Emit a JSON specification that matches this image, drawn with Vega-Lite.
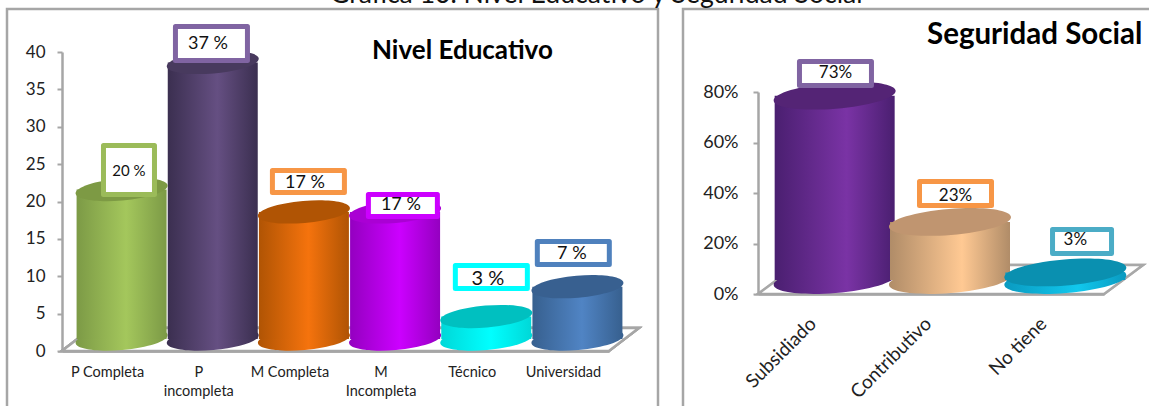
{
"$schema":"https://vega.github.io/schema/vega-lite/v6.json",
"autosize":"none",
"padding":{"left":7,"top":9,"right":1142,"bottom":397},
"background":"white",
"config":{"font":"Lato","view":{"stroke":"#a6a6a6","strokeWidth":2.5},"axis":{"grid":false,"labelColor":"#222222","domainColor":"#a6a6a6","domainWidth":2.5,"tickColor":"#a6a6a6","tickWidth":2,"tickSize":5,"title":null,"labelFont":"Lato"}},
"title":{"text":"Gráfica 10. Nivel Educativo y Seguridad Social","anchor":"start","frame":"group","dx":323,"offset":-1,"fontSize":26.6,"fontWeight":"normal","font":"Lato","color":"#111111"},
"datasets":{
"nivel":[{"nivel":"P Completa","pct":20,"txt":"20 %"},{"nivel":"P incompleta","pct":37,"txt":"37 %"},{"nivel":"M Completa","pct":17,"txt":"17 %"},{"nivel":"M Incompleta","pct":17,"txt":"17 %"},{"nivel":"Técnico","pct":3,"txt":"3 %"},{"nivel":"Universidad","pct":7,"txt":"7 %"}],
"seguridad":[{"tipo":"Subsidiado","pct":0.73,"txt":"73%"},{"tipo":"Contributivo","pct":0.23,"txt":"23%"},{"tipo":"No tiene","pct":0.03,"txt":"3%"}]
},
"spacing":25,
"bounds":"flush",
"resolve":{"scale":{"fill":"independent","stroke":"independent","shape":"independent","color":"independent","x":"independent","y":"independent"}},
"hconcat":[
{"width":651,"height":400,
 "title":{"text":"Nivel Educativo","anchor":"start","frame":"group","dx":365,"offset":-55,"fontSize":26,"fontWeight":"bold","color":"#000000"},
 "data":{"name":"nivel"},
 "encoding":{
  "x":{"field":"nivel","type":"nominal","sort":null,"scale":{"domain":["P Completa","P incompleta","M Completa","M Incompleta","Técnico","Universidad"],"range":[55,602],"paddingInner":0,"paddingOuter":0},"axis":{"offset":-58,"ticks":false,"labelAngle":0,"labelFontSize":14.5,"labelPadding":21,"labelLineHeight":19,"labelBaseline":"middle","labelLimit":120,"labelExpr":"datum.label=='P incompleta'?['P','incompleta']:datum.label=='M Incompleta'?['M','Incompleta']:datum.label"}},
  "y":{"field":"pct","type":"quantitative","scale":{"domain":[0,40],"range":[342,43],"nice":false,"zero":true},"axis":{"offset":-55,"values":[0,5,10,15,20,25,30,35,40],"labelFontSize":17,"labelPadding":12}}
 },
 "layer":[
  {"mark":{"type":"point","filled":false,"fill":"white","stroke":"#a6a6a6","strokeWidth":2.5,"size":40000,"shape":"M-5.016,0L0.454,0L0.754,-0.23L-4.716,-0.23Z"},"encoding":{"x":{"datum":"Universidad"},"y":{"datum":0}}},
  {"mark":{"type":"point","filled":true,"opacity":1,"size":40000,"xOffset":14,"yOffset":-12,"shape":"M-0.46,0.04A0.4617,0.11,-5,1,1,0.46,-0.04A0.4617,0.11,-5,1,1,-0.46,0.04Z",
    "fill":{"expr":"{gradient:'linear',x1:0,x2:1,y1:0,y2:0,stops:[{offset:0,color:{'P Completa':'#7c9a46','P incompleta':'#3b2f50','M Completa':'#b05404','M Incompleta':'#9400c0','Técnico':'#00d8d8','Universidad':'#37608f'}[datum.nivel]},{offset:0.55,color:{'P Completa':'#a4c75c','P incompleta':'#654f82','M Completa':'#f5730d','M Incompleta':'#cc00ff','Técnico':'#00ffff','Universidad':'#5084c4'}[datum.nivel]},{offset:1,color:{'P Completa':'#7c9a46','P incompleta':'#3b2f50','M Completa':'#b05404','M Incompleta':'#9400c0','Técnico':'#00d8d8','Universidad':'#37608f'}[datum.nivel]}]}"}},
   "encoding":{"y":{"datum":0}}},
  {"mark":{"type":"bar","width":90,"xOffset":14,"yOffset":-12,
    "fill":{"expr":"{gradient:'linear',x1:0,x2:1,y1:0,y2:0,stops:[{offset:0,color:{'P Completa':'#7c9a46','P incompleta':'#3b2f50','M Completa':'#b05404','M Incompleta':'#9400c0','Técnico':'#00d8d8','Universidad':'#37608f'}[datum.nivel]},{offset:0.55,color:{'P Completa':'#a4c75c','P incompleta':'#654f82','M Completa':'#f5730d','M Incompleta':'#cc00ff','Técnico':'#00ffff','Universidad':'#5084c4'}[datum.nivel]},{offset:1,color:{'P Completa':'#7c9a46','P incompleta':'#3b2f50','M Completa':'#b05404','M Incompleta':'#9400c0','Técnico':'#00d8d8','Universidad':'#37608f'}[datum.nivel]}]}"}}},
  {"mark":{"type":"point","filled":true,"opacity":1,"size":40000,"xOffset":14,"yOffset":-12,"shape":"M-0.46,0.04A0.4617,0.11,-5,1,1,0.46,-0.04A0.4617,0.11,-5,1,1,-0.46,0.04Z"},
   "encoding":{"color":{"field":"nivel","type":"nominal","sort":null,"legend":null,"scale":{"range":["#7d9a44","#483a5e","#b05404","#aa00d4","#00c0c0","#386090"]}}}},
  {"mark":{"type":"point","filled":true,"opacity":1,"fill":"white","strokeWidth":5,"size":40000,"strokeJoin":"round",
    "xOffset":{"expr":"{'P Completa':21.4,'P incompleta':12.7,'M Completa':18.5,'M Incompleta':21.8,'Técnico':19.1,'Universidad':9.9}[datum.nivel]"},
    "yOffset":{"expr":"{'P Completa':-31.5,'P incompleta':-30.9,'M Completa':-42.4,'M Incompleta':-18.4,'Técnico':-51.6,'Universidad':-45.7}[datum.nivel]"}},
   "encoding":{
    "stroke":{"field":"nivel","type":"nominal","sort":null,"legend":null,"scale":{"range":["#9bbb59","#8064a2","#f79646","#cc00ff","#00ffff","#4f81bd"]}},
    "shape":{"field":"nivel","type":"nominal","sort":null,"legend":null,"scale":{"range":["M-0.255,-0.245H0.255V0.245H-0.255Z","M-0.36,-0.17H0.36V0.17H-0.36Z","M-0.36,-0.11H0.36V0.11H-0.36Z","M-0.345,-0.11H0.345V0.11H-0.345Z","M-0.36,-0.115H0.36V0.115H-0.36Z","M-0.36,-0.115H0.36V0.115H-0.36Z"]}}}},
  {"mark":{"type":"text","color":"#111111","align":"center","baseline":"middle",
    "fontSize":{"expr":"datum.nivel=='P Completa'?15:datum.nivel=='Técnico'?20:18"},
    "xOffset":{"expr":"{'P Completa':21.4,'P incompleta':9.2,'M Completa':15,'M Incompleta':19.8,'Técnico':15.6,'Universidad':8.4}[datum.nivel]"},
    "yOffset":{"expr":"{'P Completa':-30.5,'P incompleta':-30.4,'M Completa':-40.9,'M Incompleta':-18.9,'Técnico':-49.6,'Universidad':-44.7}[datum.nivel]"}},
   "encoding":{"text":{"field":"txt"}}}
 ]},
{"width":480,"height":410,
 "title":{"text":"Seguridad Social","anchor":"start","frame":"group","dx":244,"offset":-41,"fontSize":29.5,"fontWeight":"bold","color":"#000000"},
 "data":{"name":"seguridad"},
 "encoding":{
  "x":{"field":"tipo","type":"nominal","sort":null,"scale":{"domain":["Subsidiado","Contributivo","No tiene"],"range":[75,421],"paddingInner":0,"paddingOuter":0},"axis":{"offset":-125,"ticks":false,"labelAngle":-45,"labelFontSize":19,"labelPadding":20,"labelOffset":-9,"labelLimit":200}},
  "y":{"field":"pct","type":"quantitative","scale":{"domain":[0,0.8],"range":[285,83],"nice":false},"axis":{"offset":-75,"values":[0,0.2,0.4,0.6,0.8],"format":".0%","labelFontSize":18,"labelPadding":15}}
 },
 "layer":[
  {"mark":{"type":"point","filled":false,"fill":"white","stroke":"#a6a6a6","strokeWidth":2.5,"size":40000,"shape":"M-2.883,0L0.577,0L0.967,-0.29L-2.493,-0.29Z"},"encoding":{"x":{"datum":"No tiene"},"y":{"datum":0}}},
  {"mark":{"type":"point","filled":true,"opacity":1,"size":40000,"xOffset":19,"yOffset":-14,"shape":"M-0.61,0.05A0.612,0.13,-4.7,1,1,0.61,-0.05A0.612,0.13,-4.7,1,1,-0.61,0.05Z",
    "fill":{"expr":"{gradient:'linear',x1:0,x2:1,y1:0,y2:0,stops:[{offset:0,color:{'Subsidiado':'#4a1f70','Contributivo':'#b08c68','No tiene':'#0a9ac0'}[datum.tipo]},{offset:0.6,color:{'Subsidiado':'#7a33a5','Contributivo':'#ffc993','No tiene':'#11c8ee'}[datum.tipo]},{offset:1,color:{'Subsidiado':'#4a1f70','Contributivo':'#b08c68','No tiene':'#0a9ac0'}[datum.tipo]}]}"}},
   "encoding":{"y":{"datum":0}}},
  {"mark":{"type":"bar","width":120,"xOffset":19,"yOffset":-14,
    "fill":{"expr":"{gradient:'linear',x1:0,x2:1,y1:0,y2:0,stops:[{offset:0,color:{'Subsidiado':'#4a1f70','Contributivo':'#b08c68','No tiene':'#0a9ac0'}[datum.tipo]},{offset:0.6,color:{'Subsidiado':'#7a33a5','Contributivo':'#ffc993','No tiene':'#11c8ee'}[datum.tipo]},{offset:1,color:{'Subsidiado':'#4a1f70','Contributivo':'#b08c68','No tiene':'#0a9ac0'}[datum.tipo]}]}"}}},
  {"mark":{"type":"point","filled":true,"opacity":1,"size":40000,"xOffset":19,"yOffset":-14,"shape":"M-0.61,0.05A0.612,0.13,-4.7,1,1,0.61,-0.05A0.612,0.13,-4.7,1,1,-0.61,0.05Z"},
   "encoding":{"color":{"field":"tipo","type":"nominal","sort":null,"legend":null,"scale":{"range":["#542475","#c09570","#0a90b0"]}}}},
  {"mark":{"type":"point","filled":true,"opacity":1,"fill":"white","strokeWidth":5,"size":40000,"strokeJoin":"round",
    "xOffset":{"expr":"{'Subsidiado':19.8,'Contributivo':24.5,'No tiene':35.7}[datum.tipo]"},
    "yOffset":{"expr":"{'Subsidiado':-36.2,'Contributivo':-42.4,'No tiene':-44.9}[datum.tipo]"}},
   "encoding":{
    "stroke":{"field":"tipo","type":"nominal","sort":null,"legend":null,"scale":{"range":["#8064a2","#f79646","#4bacc6"]}},
    "shape":{"field":"tipo","type":"nominal","sort":null,"legend":null,"scale":{"range":["M-0.36,-0.12H0.36V0.12H-0.36Z","M-0.36,-0.12H0.36V0.12H-0.36Z","M-0.295,-0.12H0.295V0.12H-0.295Z"]}}}},
  {"mark":{"type":"text","fontSize":17,"color":"#111111","align":"center","baseline":"middle",
    "xOffset":{"expr":"{'Subsidiado':19.8,'Contributivo':24.5,'No tiene':29}[datum.tipo]"},
    "yOffset":{"expr":"{'Subsidiado':-36.2,'Contributivo':-40.4,'No tiene':-46}[datum.tipo]"}},
   "encoding":{"text":{"field":"txt"}}}
 ]}
]
}
